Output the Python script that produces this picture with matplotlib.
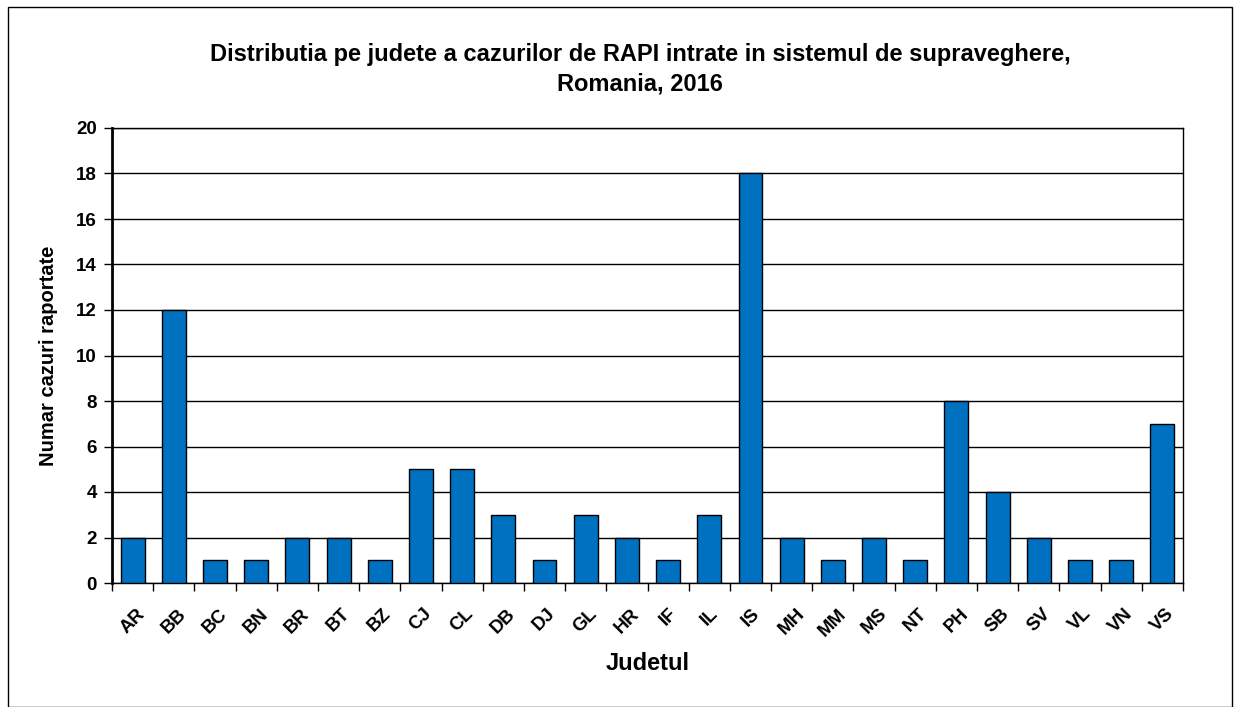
import matplotlib.pyplot as plt
import matplotlib.transforms as mtransforms
import numpy as np

judete = ['AR', 'BB', 'BC', 'BN', 'BR', 'BT', 'BZ', 'CJ', 'CL', 'DB', 'DJ', 'GL', 'HR',
          'IF', 'IL', 'IS', 'MH', 'MM', 'MS', 'NT', 'PH', 'SB', 'SV', 'VL', 'VN', 'VS']
cazuri = [2, 12, 1, 1, 2, 2, 1, 5, 5, 3, 1, 3, 2, 1, 3, 18, 2, 1, 2, 1, 8, 4, 2, 1, 1, 7]

plt.rcParams['font.family'] = ['Liberation Sans', 'DejaVu Sans']
plt.rcParams['font.weight'] = 'bold'

fig = plt.figure(figsize=(12.39, 7.07), dpi=100)
ax = fig.add_axes([112 / 1239, 1 - 583 / 707, (1183 - 112) / 1239, (583 - 128) / 707])

x = np.arange(len(judete))
ax.bar(x, cazuri, width=0.58, color='#0070C0', edgecolor='black', linewidth=1, zorder=3)

ax.set_xlim(-0.5, len(judete) - 0.5)
ax.set_ylim(0, 20)
ax.set_yticks(range(0, 21, 2))
ax.yaxis.grid(True, color='black', linewidth=1, zorder=0)

ax.set_xticks(np.arange(-0.5, len(judete), 1))
ax.set_xticklabels([])
ax.set_xticks(x, minor=True)
ax.set_xticklabels(judete, minor=True, rotation=45, fontsize=13.5, fontweight='bold')
shift = mtransforms.ScaledTranslation(-7 / 100, 0, fig.dpi_scale_trans)
for lab in ax.get_xticklabels(minor=True):
    lab.set_transform(lab.get_transform() + shift)
ax.tick_params(axis='x', which='minor', length=0, pad=16)
ax.tick_params(axis='x', which='major', direction='out', length=6, width=1, color='black')
ax.tick_params(axis='y', direction='out', length=6, width=1, labelsize=13.5, pad=5)
for lab in ax.get_yticklabels():
    lab.set_fontweight('bold')

for s in ['top', 'right']:
    ax.spines[s].set_linewidth(1)
ax.spines['left'].set_linewidth(2)
ax.spines['bottom'].set_linewidth(1)

ax.set_ylabel('Numar cazuri raportate', fontsize=14.5, fontweight='bold', labelpad=13)
ax.set_xlabel('Judetul', fontsize=17, fontweight='bold', labelpad=9)

fig.text(640 / 1239, 1 - 55 / 707, 'Distributia pe judete a cazurilor de RAPI intrate in sistemul de supraveghere,',
         ha='center', va='center', fontsize=17, fontweight='bold')
fig.text(640 / 1239, 1 - 84 / 707, 'Romania, 2016', ha='center', va='center', fontsize=17, fontweight='bold')

border = plt.Rectangle((8 / 1239, 0), (1232 - 8) / 1239, 1 - 7 / 707, transform=fig.transFigure,
                       fill=False, edgecolor='black', linewidth=1)
fig.patches.append(border)

fig.savefig('out.png', dpi=100)
